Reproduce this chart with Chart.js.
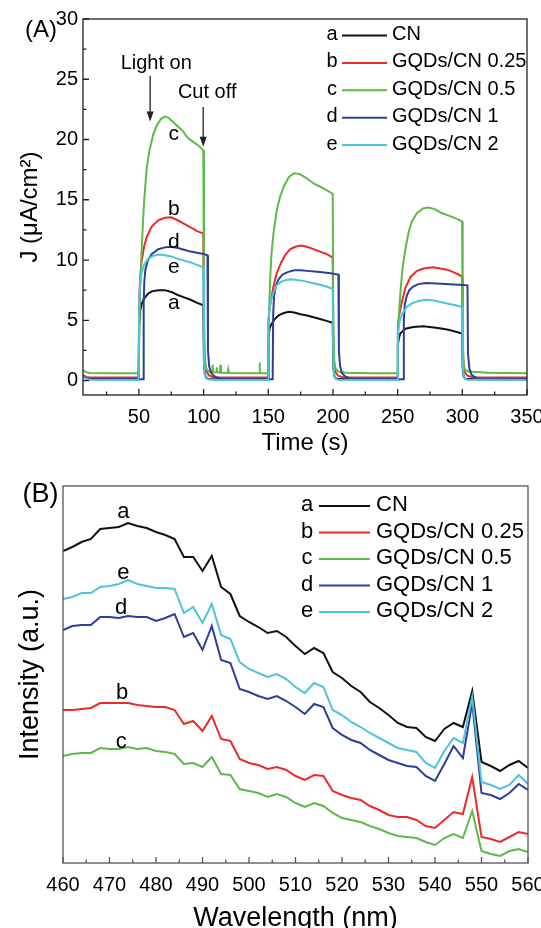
<!DOCTYPE html>
<html>
<head>
<meta charset="utf-8">
<script src="https://cdn.jsdelivr.net/npm/chart.js@4.4.1/dist/chart.umd.min.js"></script>
<style>
  html, body { margin: 0; padding: 0; background: #fff; overflow: hidden; width: 541px; height: 928px; }
  #boxA { position: absolute; left: 0; top: 0; width: 560px; height: 460px; }
  #boxB { position: absolute; left: 0; top: 460px; width: 560px; height: 480px; }
</style>
</head>
<body>
<div id="boxA"><canvas id="chartA" width="560" height="460"></canvas></div>
<div id="boxB"><canvas id="chartB" width="560" height="480"></canvas></div>
<script>
// ---------- data ----------
var letters = ['a', 'b', 'c', 'd', 'e'];
var seriesNames = ['CN', 'GQDs/CN 0.25', 'GQDs/CN 0.5', 'GQDs/CN 1', 'GQDs/CN 2'];
var seriesColors = ['#111111', '#ec2a27', '#5dba47', '#2c3e99', '#4dc3dc'];

// (A) photocurrent, [time s, J uA/cm2]
var photoCN = [[7,0.3],[9,0.2],[12,0.12],[20,0.1],[35,0.1],[49.8,0.1],[50.2,4.5],[51,5.8],[52,6.3],[54,6.8],[57,7.2],[60,7.4],[65,7.5],[70,7.5],[75,7.35],[80,7.1],[85,6.9],[90,6.7],[95,6.45],[99.8,6.25],
  [100.3,1.5],[101,0.5],[102,0.25],[104,0.12],[115,0.1],[130,0.1],[149.8,0.1],[150.2,3.5],[151,4.3],[152,4.6],[155,5.1],[158,5.4],[162,5.6],[166,5.7],[170,5.65],[175,5.5],[180,5.4],[185,5.25],[190,5.1],[195,4.95],[199.8,4.8],
  [200.3,1.2],[201,0.4],[202,0.2],[204,0.12],[215,0.1],[230,0.1],[249.8,0.1],[250.2,3.0],[251,3.5],[252,3.9],[256,4.3],[262,4.45],[270,4.5],[278,4.4],[285,4.3],[290,4.2],[295,4.05],[299.8,3.9],
  [300.3,1.0],[301,0.35],[302,0.18],[304,0.12],[320,0.1],[350,0.1]];
var photo025 = [[7,0.45],[9,0.3],[12,0.25],[30,0.25],[49.8,0.25],[50.2,6.5],[51,8.5],[52,9.8],[54,11.1],[56,11.9],[60,12.8],[65,13.3],[70,13.5],[75,13.55],[80,13.3],[85,13.0],[90,12.7],[95,12.4],[99.8,12.2],
  [100.3,3.5],[101,1.5],[102,0.8],[104,0.45],[107,0.3],[112,0.25],[130,0.25],[149.8,0.25],[150.2,5.0],[151,6.0],[152,6.6],[154,7.8],[156.5,8.9],[160,9.8],[163,10.4],[167,10.9],[171,11.1],[175,11.2],[180,11.1],[185,10.9],[190,10.7],[195,10.5],[199.8,10.2],
  [200.3,3.0],[201,1.3],[202,0.7],[204,0.4],[207,0.3],[212,0.25],[230,0.25],[249.8,0.25],[250.2,4.5],[251,5.3],[253,6.4],[256,7.7],[260,8.6],[265,9.1],[270,9.3],[277,9.4],[283,9.3],[288,9.2],[293,9.0],[297,8.8],[299.8,8.6],
  [300.3,2.8],[301,1.2],[302,0.7],[304,0.4],[307,0.3],[312,0.25],[350,0.25]];
var photo05 = [[7,0.85],[9,0.7],[12,0.62],[30,0.6],[49.8,0.6],[50.2,3],[51,7.8],[52,10.5],[53,12.8],[54,14.8],[56,17.6],[58,19.0],[61,20.4],[64,21.2],[67,21.7],[70,21.9],[73,21.8],[76,21.5],[80,21.1],[84,20.7],[88,20.1],[92,19.8],[96,19.5],[99.8,19.1],
  [100.3,6],[101,1.8],[102,1.0],[104,0.75],[106.6,0.7],[107,1.3],[107.4,0.7],[109.8,0.68],[110.2,1.1],[110.6,0.68],[112.6,0.66],[113,1.3],[113.4,0.66],[118.6,0.63],[119,0.9],[119.4,0.63],[143,0.6],[143.3,1.5],[143.6,0.6],[149.8,0.6],
  [150.2,4.5],[151.5,8.5],[152.5,10.5],[154,12.2],[156.5,14.1],[159,15.2],[162,16.1],[166,16.9],[170,17.2],[174,17.15],[178,16.9],[182,16.6],[186,16.3],[190,16.1],[195,15.8],[199.8,15.5],
  [200.3,5],[201,1.6],[202,1.0],[204,0.75],[210,0.65],[230,0.6],[249.8,0.6],[250.2,3],[251,5.5],[252.5,7.8],[254,9.5],[256,10.9],[258.5,12.3],[261,13.2],[265,13.9],[270,14.3],[274,14.35],[279,14.2],[284,13.9],[289,13.7],[294,13.5],[299.8,13.2],
  [300.3,4],[301,1.4],[302,0.9],[305,0.75],[320,0.65],[350,0.6]];
var photo1 = [[7,0.35],[9,0.2],[12,0.12],[30,0.1],[53.3,0.1],[53.7,6.5],[54.2,8.2],[55,9.2],[57,10.0],[60,10.5],[65,10.9],[70,11.05],[75,11.1],[80,11.0],[85,10.85],[90,10.7],[95,10.6],[100,10.5],[103,10.4],
  [103.4,2.5],[104.3,1.2],[106,0.6],[109,0.3],[113,0.15],[120,0.1],[153.4,0.1],[153.8,5.5],[154.5,7.0],[156,7.9],[158,8.4],[161,8.8],[165,9.0],[170,9.15],[175,9.15],[180,9.1],[190,9.0],[198,8.9],[204.2,8.8],
  [204.6,2.5],[205.5,1.2],[207,0.6],[210,0.3],[214,0.15],[220,0.1],[254.4,0.1],[254.8,5.0],[255.5,6.3],[257,7.0],[259,7.5],[262,7.8],[266,8.0],[272,8.1],[280,8.05],[290,8.0],[298,7.95],[304,7.9],
  [304.4,2.2],[305.5,1.0],[307,0.5],[310,0.25],[314,0.12],[320,0.1],[350,0.1]];
var photo2 = [[7,0.3],[9,0.15],[12,0.07],[30,0.05],[49.8,0.05],[50.2,6.5],[51,8.0],[52,8.9],[54,9.6],[57,10.1],[61,10.35],[66,10.45],[70,10.4],[75,10.3],[80,10.1],[85,9.95],[90,9.8],[95,9.6],[99.8,9.4],
  [100.3,1.5],[101,0.5],[102,0.2],[104,0.08],[110,0.05],[149.8,0.05],[150.2,5.0],[151,6.0],[152,6.6],[154,7.3],[156.5,7.9],[160,8.2],[164,8.35],[168,8.4],[172,8.35],[178,8.25],[184,8.1],[190,7.95],[195,7.8],[199.8,7.6],
  [200.3,1.3],[201,0.4],[202,0.15],[204,0.06],[210,0.05],[249.8,0.05],[250.2,4.0],[251,4.6],[252,5.1],[254,5.6],[257,6.1],[261,6.4],[266,6.6],[272,6.7],[278,6.65],[284,6.5],[290,6.35],[295,6.25],[299.8,6.1],
  [300.3,1.2],[301,0.4],[302,0.15],[304,0.06],[350,0.05]];
var timeTicks = [50, 100, 150, 200, 250, 300, 350];
var jTicks = [0, 5, 10, 15, 20, 25, 30];

// (B) PL spectra, intensity a.u.
var wavelengths = [460,462,464,466,468,470,472,474,476,478,480,482,484,486,488,490,492,494,496,498,500,502,504,506,508,510,512,514,516,518,520,522,524,526,528,530,532,534,536,538,540,542,544,546,548,550,552,554,556,558,560];
var plCN  = [312,316,321,324,334,335,336,340,337,335,331,328,324,306,306,292,307,276,269,247,241,236,230,232,226,217,209,215,210,191,185,177,171,161,155,148,140,136,135,126,122,134,140,136,172,101,97,92,98,102,95];
var pl025 = [153,153,154,155,160,160,160,160,158,157,156,156,153,139,142,132,147,124,122,104,100,98,94,96,93,87,83,88,87,72,68,65,63,57,53,48,46,46,43,37,35,43,51,49,86,26,24,21,26,31,29];
var pl05  = [107,109,110,110,115,114,114,116,114,115,112,111,109,99,100,96,106,89,88,74,72,70,66,69,66,60,56,60,57,50,45,43,41,37,34,30,27,26,25,21,18,25,29,25,52,12,9,7,12,14,11];
var pl1   = [233,237,238,238,246,246,245,247,246,246,242,245,249,226,230,213,237,203,200,174,171,167,164,167,162,156,149,159,156,135,128,123,120,113,108,103,100,97,96,87,82,99,117,105,160,70,68,64,70,79,73];
var pl2   = [264,266,270,270,276,277,279,283,279,277,275,275,274,250,256,240,259,228,224,201,194,190,186,189,184,176,170,180,176,153,148,141,136,130,125,120,115,113,111,100,95,112,125,120,166,81,78,74,78,88,79];
var wlTicks = [460, 470, 480, 490, 500, 510, 520, 530, 540, 550, 560];

// label anchors in data units
var tagsA = [[77,6.45],[77,14.2],[77,20.4],[77,11.5],[77,9.4]];
var tagsB = [[473,351],[472.7,170],[472.5,121],[472.5,255],[473,290]];

var FONT = '"Liberation Sans", Arial, Helvetica, sans-serif';

// ---------- helpers ----------
function midTicks(major, lo, hi) {
  var out = [];
  var step = major[1] - major[0];
  var first = major[0] - step / 2;
  for (var v = first; v <= hi; v += step) { if (v >= lo) out.push(v); }
  return out;
}

var frameTicks = {
  id: 'frameTicks',
  afterDraw: function(chart, args, opts) {
    var ctx = chart.ctx, a = chart.chartArea;
    var xs = chart.scales.x, ys = chart.scales.y;
    ctx.save();
    ctx.strokeStyle = opts.color;
    ctx.lineWidth = 1.3;
    ctx.strokeRect(a.left, a.top, a.right - a.left, a.bottom - a.top);
    ctx.beginPath();
    (opts.xMajor || []).forEach(function(v) { var p = xs.getPixelForValue(v); ctx.moveTo(p, a.bottom); ctx.lineTo(p, a.bottom - 6); });
    (opts.xMinor || []).forEach(function(v) { var p = xs.getPixelForValue(v); ctx.moveTo(p, a.bottom); ctx.lineTo(p, a.bottom - 3.5); });
    (opts.yMajor || []).forEach(function(v) { var p = ys.getPixelForValue(v); ctx.moveTo(a.left, p); ctx.lineTo(a.left + 6, p); });
    (opts.yMinor || []).forEach(function(v) { var p = ys.getPixelForValue(v); ctx.moveTo(a.left, p); ctx.lineTo(a.left + 3.5, p); });
    ctx.stroke();
    ctx.restore();
  }
};

function drawLegend(ctx, x0, y0, gap, size, letterX, lineX1, lineX2, textX) {
  ctx.font = size + 'px ' + FONT;
  ctx.textBaseline = 'middle';
  for (var i = 0; i < seriesNames.length; i++) {
    var y = y0 + i * gap;
    ctx.fillStyle = '#000';
    ctx.textAlign = 'center';
    ctx.fillText(letters[i], letterX, y);
    ctx.strokeStyle = seriesColors[i];
    ctx.lineWidth = 2;
    ctx.beginPath(); ctx.moveTo(lineX1, y + 1); ctx.lineTo(lineX2, y + 1); ctx.stroke();
    ctx.textAlign = 'left';
    ctx.fillText(seriesNames[i], textX, y);
  }
}

function drawArrow(ctx, x, y1, y2) {
  ctx.strokeStyle = '#222'; ctx.fillStyle = '#222'; ctx.lineWidth = 1.3;
  ctx.beginPath(); ctx.moveTo(x, y1); ctx.lineTo(x, y2 - 6); ctx.stroke();
  ctx.beginPath(); ctx.moveTo(x, y2); ctx.lineTo(x - 3.5, y2 - 10); ctx.lineTo(x + 3.5, y2 - 10); ctx.closePath(); ctx.fill();
}

var annotA = {
  id: 'annotA',
  afterDraw: function(chart) {
    var ctx = chart.ctx, xs = chart.scales.x, ys = chart.scales.y;
    ctx.save();
    ctx.fillStyle = '#000';
    ctx.textBaseline = 'middle';
    ctx.textAlign = 'center';
    ctx.font = '24px ' + FONT;
    ctx.fillText('(A)', 41, 30);
    ctx.font = '21px ' + FONT;
    tagsA.forEach(function(p, i) { ctx.fillText(letters[i], xs.getPixelForValue(p[0]), ys.getPixelForValue(p[1])); });
    ctx.font = '20px ' + FONT;
    ctx.fillText('Light on', xs.getPixelForValue(63.4), ys.getPixelForValue(26.3));
    ctx.fillText('Cut off', xs.getPixelForValue(102.8), ys.getPixelForValue(23.9));
    drawArrow(ctx, xs.getPixelForValue(58.7), ys.getPixelForValue(25.3), ys.getPixelForValue(21.5));
    drawArrow(ctx, xs.getPixelForValue(99.7), ys.getPixelForValue(22.7), ys.getPixelForValue(19.4));
    drawLegend(ctx, 0, 34.5, 27.4, 20, 332, 342, 387, 392);
    ctx.restore();
  }
};

var annotB = {
  id: 'annotB',
  afterDraw: function(chart) {
    var ctx = chart.ctx, xs = chart.scales.x, ys = chart.scales.y;
    ctx.save();
    ctx.fillStyle = '#000';
    ctx.textBaseline = 'middle';
    ctx.textAlign = 'center';
    ctx.font = '27px ' + FONT;
    ctx.fillText('(B)', 40.5, 35);
    ctx.font = '22px ' + FONT;
    tagsB.forEach(function(p, i) { ctx.fillText(letters[i], xs.getPixelForValue(p[0]), ys.getPixelForValue(p[1])); });
    drawLegend(ctx, 0, 45, 26.5, 22, 307, 319, 370, 376);
    ctx.restore();
  }
};

// ---------- chart A ----------
var photoSets = [photoCN, photo025, photo05, photo1, photo2];
new Chart(document.getElementById('chartA').getContext('2d'), {
  type: 'line',
  data: {
    datasets: photoSets.map(function(s, i) {
      return {
        label: seriesNames[i],
        data: s.map(function(p) { return { x: p[0], y: p[1] }; }),
        borderColor: seriesColors[i],
        borderWidth: 2,
        order: 5 - i
      };
    })
  },
  options: {
    responsive: false,
    animation: false,
    layout: { padding: { top: 19, right: 33, left: 0, bottom: 0 } },
    elements: { point: { radius: 0 }, line: { tension: 0 } },
    plugins: {
      legend: { display: false },
      tooltip: { enabled: false },
      frameTicks: { color: '#222', xMajor: timeTicks, xMinor: midTicks(timeTicks, 6.8, 350), yMajor: jTicks, yMinor: midTicks(jTicks, -1.2, 30) }
    },
    scales: {
      x: {
        type: 'linear', min: 6.8, max: 350,
        afterBuildTicks: function(s) { s.ticks = timeTicks.map(function(v) { return { value: v }; }); },
        afterFit: function(s) { s.height = 65; },
        grid: { display: false, drawTicks: false },
        border: { display: false },
        ticks: { color: '#000', font: { family: FONT, size: 20 }, padding: 10, maxRotation: 0, autoSkip: false },
        title: { display: true, text: 'Time (s)', color: '#000', font: { family: FONT, size: 24 }, padding: { top: 0, bottom: 2.6 } }
      },
      y: {
        type: 'linear', min: -1.2, max: 30,
        afterBuildTicks: function(s) { s.ticks = jTicks.map(function(v) { return { value: v }; }); },
        afterFit: function(s) { s.width = 83; },
        grid: { display: false, drawTicks: false },
        border: { display: false },
        ticks: { color: '#000', font: { family: FONT, size: 20 }, padding: 5 },
        title: { display: true, text: 'J (\u03BCA/cm\u00B2)', color: '#000', font: { family: FONT, size: 24 }, padding: { top: 15.6, bottom: 0 } }
      }
    }
  },
  plugins: [frameTicks, annotA]
});

// ---------- chart B ----------
var plSets = [plCN, pl025, pl05, pl1, pl2];
new Chart(document.getElementById('chartB').getContext('2d'), {
  type: 'line',
  data: {
    datasets: plSets.map(function(s, i) {
      return {
        label: seriesNames[i],
        data: s.map(function(v, k) { return { x: wavelengths[k], y: v }; }),
        borderColor: seriesColors[i],
        borderWidth: 2,
        order: 5 - i
      };
    })
  },
  options: {
    responsive: false,
    animation: false,
    layout: { padding: { top: 26, right: 32, left: 0, bottom: 0 } },
    elements: { point: { radius: 0 }, line: { tension: 0 } },
    plugins: {
      legend: { display: false },
      tooltip: { enabled: false },
      frameTicks: { color: '#555', xMajor: wlTicks, xMinor: midTicks(wlTicks, 460, 560) }
    },
    scales: {
      x: {
        type: 'linear', min: 460, max: 560,
        afterBuildTicks: function(s) { s.ticks = wlTicks.map(function(v) { return { value: v }; }); },
        afterFit: function(s) { s.height = 77; },
        grid: { display: false, drawTicks: false },
        border: { display: false },
        ticks: { color: '#000', font: { family: FONT, size: 20 }, padding: 10, maxRotation: 0, autoSkip: false },
        title: { display: true, text: 'Wavelength (nm)', color: '#000', font: { family: FONT, size: 27 }, padding: { top: 0, bottom: 4.8 } }
      },
      y: {
        type: 'linear', min: 0, max: 377,
        afterFit: function(s) { s.width = 63; },
        grid: { display: false, drawTicks: false },
        border: { display: false },
        ticks: { display: false },
        title: { display: true, text: 'Intensity (a.u.)', color: '#000', font: { family: FONT, size: 27 }, padding: { top: 14.8, bottom: 0 } }
      }
    }
  },
  plugins: [frameTicks, annotB]
});
</script>
</body>
</html>
